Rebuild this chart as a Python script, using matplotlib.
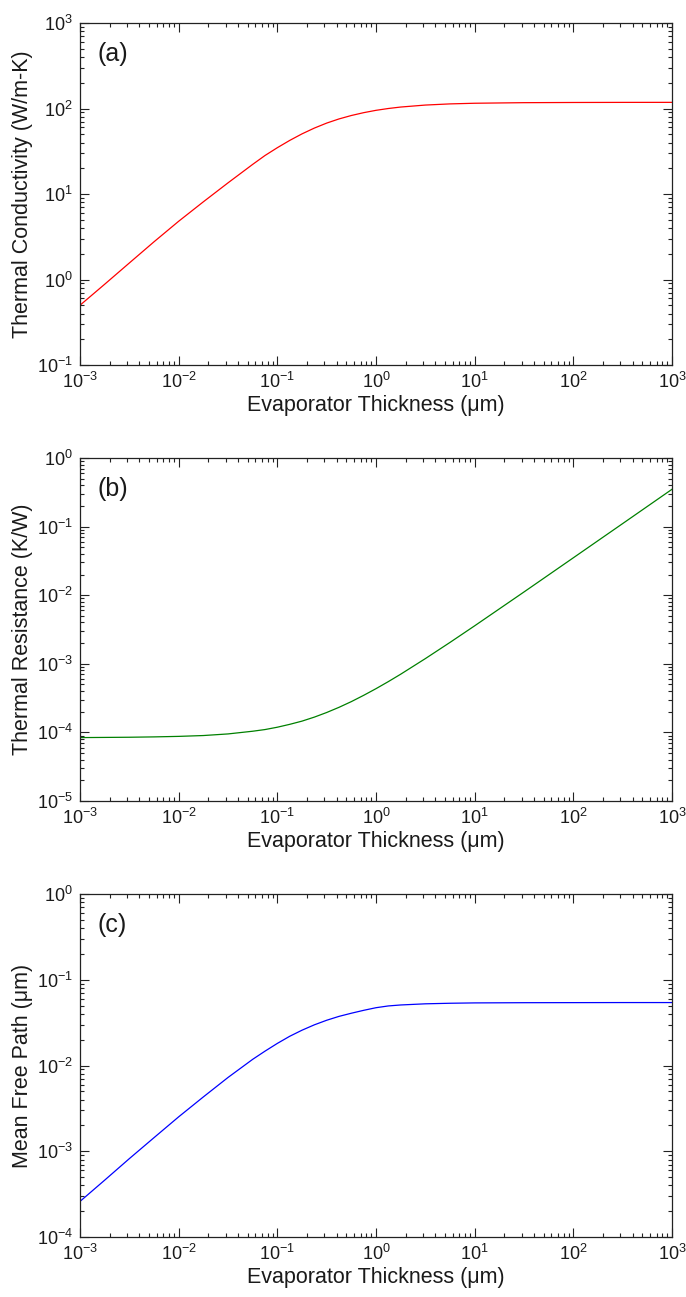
import numpy as np
import matplotlib
matplotlib.use("Agg")
import matplotlib.pyplot as plt
from matplotlib.ticker import LogLocator, FuncFormatter, NullFormatter

plt.rcParams['font.family'] = ['Liberation Sans', 'DejaVu Sans']
plt.rcParams['mathtext.fontset'] = 'custom'
plt.rcParams['mathtext.rm'] = 'Liberation Sans'
plt.rcParams['mathtext.it'] = 'Liberation Sans:italic'
plt.rcParams['mathtext.bf'] = 'Liberation Sans:bold'

# Evaporator thickness (um), sampled at log10 steps
log_thickness = [-3, -2.75, -2.5, -2.25, -2, -1.75, -1.5, -1.25, -1.125, -1, -0.875,
                 -0.75, -0.625, -0.5, -0.375, -0.25, -0.125, 0, 0.125, 0.25, 0.5,
                 0.75, 1, 1.5, 2, 2.5, 3]
thickness = [10.0 ** v for v in log_thickness]

# (a) Thermal conductivity (W/m-K)
conductivity = [0.50, 0.88, 1.56, 2.76, 4.8, 8.1, 13.5, 22.2, 28.2, 34.8, 42.3,
                50.5, 59.0, 67.5, 75.5, 82.8, 89.4, 95.2, 100.0, 104.0, 109.7,
                113.2, 115.2, 117.0, 117.6, 117.9, 118.0]

# (b) Thermal resistance (K/W)
resistance = [8.4e-5, 8.45e-5, 8.5e-5, 8.6e-5, 8.75e-5, 9.0e-5, 9.5e-5, 1.04e-4,
              1.1e-4, 1.19e-4, 1.31e-4, 1.46e-4, 1.67e-4, 1.95e-4, 2.32e-4, 2.81e-4,
              3.47e-4, 4.34e-4, 5.5e-4, 7.05e-4, 1.19e-3, 2.05e-3, 3.58e-3,
              1.115e-2, 3.51e-2, 0.1107, 0.35]

# (c) Mean free path (um)
mean_free_path = [2.6e-4, 4.6e-4, 8.2e-4, 1.44e-3, 2.52e-3, 4.3e-3, 7.25e-3, 1.18e-2,
                  1.47e-2, 1.81e-2, 2.19e-2, 2.58e-2, 2.98e-2, 3.37e-2, 3.74e-2,
                  4.07e-2, 4.4e-2, 4.72e-2, 4.95e-2, 5.08e-2, 5.24e-2, 5.32e-2,
                  5.37e-2, 5.4e-2, 5.41e-2, 5.42e-2, 5.42e-2]

xlabel = "Evaporator Thickness (\u03bcm)"
panels = [
    dict(y=conductivity, color='#ff0000', ylabel="Thermal Conductivity (W/m-K)",
         ylim=(1e-1, 1e3), tag="(a)"),
    dict(y=resistance, color='#008000', ylabel="Thermal Resistance (K/W)",
         ylim=(1e-5, 1e0), tag="(b)"),
    dict(y=mean_free_path, color='#0000ff', ylabel="Mean Free Path (\u03bcm)",
         ylim=(1e-4, 1e0), tag="(c)"),
]

fig = plt.figure(figsize=(6.86, 12.97), dpi=100)
rects = [
    [80/686, 1 - 365/1297, 592/686, 342/1297],
    [80/686, 1 - 801/1297, 592/686, 343/1297],
    [80/686, 1 - 1237/1297, 592/686, 343/1297],
]
txtcol = '#1a1a1a'

def fmt(v, pos):
    e = int(round(np.log10(v)))
    return r'$\mathregular{10^{%d}}$' % e

for rect, p in zip(rects, panels):
    ax = fig.add_axes(rect)
    ax.plot(thickness, p['y'], color=p['color'], lw=0.9)
    ax.set_xscale('log')
    ax.set_yscale('log')
    ax.set_xlim(1e-3, 1e3)
    ax.set_ylim(*p['ylim'])
    ax.xaxis.set_major_locator(LogLocator(base=10, numticks=20))
    ax.yaxis.set_major_locator(LogLocator(base=10, numticks=20))
    ax.xaxis.set_minor_locator(LogLocator(base=10, subs=tuple(range(2, 10)), numticks=100))
    ax.yaxis.set_minor_locator(LogLocator(base=10, subs=tuple(range(2, 10)), numticks=100))
    ax.xaxis.set_major_formatter(FuncFormatter(fmt))
    ax.yaxis.set_major_formatter(FuncFormatter(fmt))
    ax.xaxis.set_minor_formatter(NullFormatter())
    ax.yaxis.set_minor_formatter(NullFormatter())
    ax.tick_params(which='both', direction='in', top=True, right=True,
                   color='#222222', width=0.8, labelsize=13, labelcolor=txtcol)
    ax.tick_params(which='major', length=6.5, pad=5)
    ax.tick_params(which='minor', length=3.2)
    for s in ax.spines.values():
        s.set_color('#222222')
        s.set_linewidth(0.9)
    ax.set_xlabel(xlabel, fontsize=15.5, color=txtcol, labelpad=2)
    ax.set_ylabel(p['ylabel'], fontsize=15.5, color=txtcol, labelpad=3)
    ax.text(0.03, 0.945, p['tag'], transform=ax.transAxes, fontsize=18,
            color=txtcol, ha='left', va='top')

fig.savefig('out.png', dpi=100)
